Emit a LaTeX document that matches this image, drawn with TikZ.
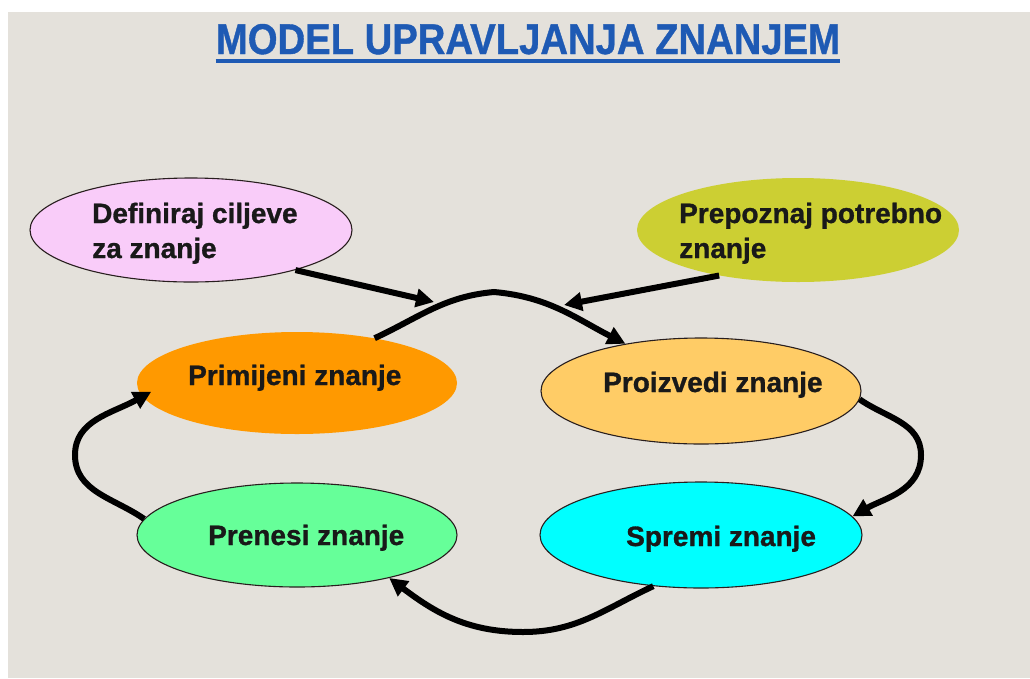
\documentclass[tikz,border=0pt]{standalone}
\usepackage{fontspec}
\setmainfont{Liberation Sans}[BoldFeatures={FakeBold=1}]
\usetikzlibrary{shapes.geometric,arrows.meta}
\definecolor{bgc}{RGB}{228,225,219}
\definecolor{pinkc}{RGB}{249,204,249}
\definecolor{limec}{RGB}{204,207,51}
\definecolor{orangec}{RGB}{255,153,0}
\definecolor{lorangec}{RGB}{255,204,102}
\definecolor{cyanc}{RGB}{0,255,255}
\definecolor{greenc}{RGB}{102,255,153}
\definecolor{titlec}{RGB}{30,90,180}
\definecolor{edgec}{RGB}{40,30,30}
\begin{document}
\begin{tikzpicture}[x=1pt,y=-1pt,
  ell/.style={ellipse, inner sep=0pt, minimum width=322pt, minimum height=104pt},
  bord/.style={draw=edgec, line width=1.1pt},
  txt/.style={inner sep=0pt, anchor=base west, font=\fontsize{28}{34}\selectfont\bfseries, text=black!90},
  conn/.style={line width=6pt, black, -{Triangle[length=18pt,width=18pt]}}
]
\useasboundingbox (0,0) rectangle (1030,678);
\fill[white] (0,0) rectangle (1030,678);
\fill[bgc] (8,12) rectangle (1030,678);

% title
\node[inner sep=0pt, anchor=base, text=titlec] (title) at (528,54)
  {\resizebox{624pt}{30pt}{\bfseries MODEL UPRAVLJANJA ZNANJEM}};
\draw[titlec, line width=4pt] ([yshift=-6pt]title.south west) -- ([yshift=-6pt]title.south east);

% ellipses
\node[ell, bord, fill=pinkc] (def) at (191,230) {};
\node[ell, fill=limec] (prep) at (798,230) {};
\node[ell, fill=orangec, minimum width=320pt, minimum height=102pt] (prim) at (297,383) {};
\node[ell, bord, fill=lorangec, minimum width=320pt, minimum height=106pt] (proi) at (701,391) {};
\node[ell, bord, fill=cyanc, minimum height=106pt] (spre) at (701,535) {};
\node[ell, bord, fill=greenc, minimum width=320pt] (pren) at (297,535) {};

% texts
\node[txt] (defa) at (92,223) {Definiraj ciljeve};
\node[txt] (defb) at (92,258) {za znanje};
\node[txt] (prepa) at (679,223) {Prepoznaj potrebno};
\node[txt] (prepb) at (679,258) {znanje};
\node[txt] (primt) at (188,385) {Primijeni znanje};
\node[txt] (proit) at (603,392) {Proizvedi znanje};
\node[txt] (spret) at (626,546) {Spremi znanje};
\node[txt] (prent) at (208,545) {Prenesi znanje};

% free ends
\coordinate (m1) at (434,302);
\coordinate (m2) at (564,305);

% connectors
\draw[conn] (def.-21) -- (m1);
\draw[conn] (prep.-150) -- (m2);
\draw[conn] (prim.30) to[out=25,in=185] (494,292) to[out=-5,in=153] (proi.148);
\draw[conn] (proi.-3) to[out=-35,in=90] (921,455) to[out=-90,in=30] (spre.7);
\draw[conn] (spre.-133) to[out=-155,in=0] (523,632) to[out=180,in=-37] (pren.-25);
\draw[conn, shorten >=-10pt] (pren.174) to[out=145,in=-90] (75,455) to[out=90,in=-151] (prim.185);
\end{tikzpicture}
\end{document}
